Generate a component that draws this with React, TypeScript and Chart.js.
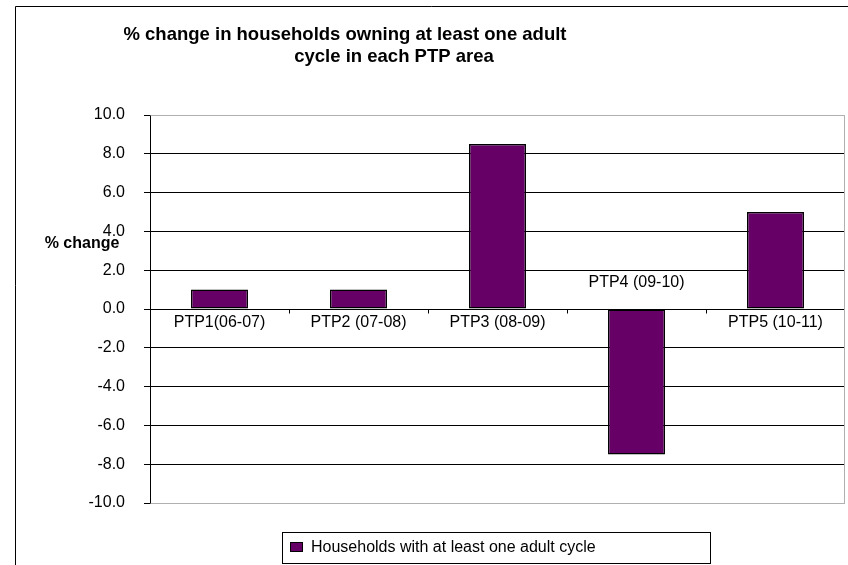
import React, { useEffect, useRef } from "react";
import { Chart, registerables } from "chart.js";

Chart.register(...registerables);

const categories = ["PTP1(06-07)", "PTP2 (07-08)", "PTP3 (08-09)", "PTP4 (09-10)", "PTP5 (10-11)"];
const values = [1.0, 1.0, 8.5, -7.5, 5.0];
const seriesName = "Households with at least one adult cycle";
const titleLines = ["% change in households owning at least one adult", "cycle in each PTP area"];
const yAxisTitle = "% change";
const yMin = -10;
const yMax = 10;
const yStep = 2;

const FONT = '"Liberation Sans", Arial, sans-serif';
const BAR_COLOR = "#660066";

const decorPlugin = {
  id: "decor",
  beforeDraw(chart: any) {
    const ctx = chart.ctx;
    ctx.save();
    ctx.fillStyle = "#fff";
    ctx.fillRect(0, 0, chart.width, chart.height);
    // outer chart border
    ctx.strokeStyle = "#000";
    ctx.lineWidth = 1;
    ctx.beginPath();
    ctx.moveTo(15.5, chart.height);
    ctx.lineTo(15.5, 6.5);
    ctx.lineTo(chart.width, 6.5);
    ctx.stroke();
    // title
    ctx.fillStyle = "#000";
    ctx.font = `bold 18.5px ${FONT}`;
    ctx.textAlign = "center";
    ctx.textBaseline = "middle";
    ctx.fillText(titleLines[0], 345, 35);
    ctx.fillText(titleLines[1], 394, 57);
    ctx.restore();
  },
  afterDatasetsDraw(chart: any) {
    const ctx = chart.ctx;
    const area = chart.chartArea;
    const x = chart.scales.x;
    const y = chart.scales.y;
    const zeroY = Math.round(y.getPixelForValue(0)) + 0.5;
    ctx.save();
    // plot area border (gray) on top, right, bottom
    ctx.strokeStyle = "#b0b0b0";
    ctx.lineWidth = 1;
    ctx.beginPath();
    ctx.moveTo(Math.round(area.left) + 0.5, Math.round(area.top) + 0.5);
    ctx.lineTo(Math.round(area.right) - 0.5, Math.round(area.top) + 0.5);
    ctx.lineTo(Math.round(area.right) - 0.5, Math.round(area.bottom) + 0.5);
    ctx.lineTo(Math.round(area.left) + 0.5, Math.round(area.bottom) + 0.5);
    ctx.stroke();
    // category boundary tick marks on the zero line
    ctx.strokeStyle = "#000";
    const n = categories.length;
    const w = (area.right - area.left) / n;
    ctx.beginPath();
    for (let i = 1; i < n; i++) {
      const px = Math.round(area.left + i * w) + 0.5;
      ctx.moveTo(px, zeroY);
      ctx.lineTo(px, zeroY + 4);
    }
    ctx.stroke();
    // category labels next to the zero line
    ctx.fillStyle = "#000";
    ctx.font = `16px ${FONT}`;
    ctx.textAlign = "center";
    ctx.textBaseline = "middle";
    categories.forEach((c, i) => {
      const cx = x.getPixelForValue(i);
      const ly = values[i] < 0 ? zeroY - 27 : zeroY + 13;
      ctx.fillText(c, cx, ly);
    });
    // y axis title
    ctx.font = `bold 16px ${FONT}`;
    ctx.fillText(yAxisTitle, 82, 244);
    // legend
    ctx.strokeStyle = "#000";
    ctx.strokeRect(282.5, 532.5, 428, 31);
    ctx.fillStyle = BAR_COLOR;
    ctx.fillRect(290.5, 542.5, 12, 9);
    ctx.strokeRect(290.5, 542.5, 12, 9);
    ctx.fillStyle = "#000";
    ctx.font = `16px ${FONT}`;
    ctx.textAlign = "left";
    ctx.fillText(seriesName, 311, 548);
    ctx.restore();
  },
};

export default function App() {
  const canvasRef = useRef<HTMLCanvasElement | null>(null);

  useEffect(() => {
    const canvas = canvasRef.current;
    if (!canvas) return;
    const chart = new Chart(canvas, {
      type: "bar",
      data: {
        labels: categories,
        datasets: [
          {
            label: seriesName,
            data: values,
            backgroundColor: BAR_COLOR,
            borderColor: "#000",
            borderWidth: 1.5,
            borderSkipped: false,
            categoryPercentage: 1,
            barPercentage: 0.41,
          },
        ],
      },
      options: {
        responsive: false,
        animation: false,
        devicePixelRatio: 1,
        layout: { padding: { left: 0, top: 115, right: 3, bottom: 62 } },
        plugins: {
          legend: { display: false },
          tooltip: { enabled: false },
          title: { display: false },
        },
        scales: {
          x: {
            display: false,
          },
          y: {
            min: yMin,
            max: yMax,
            afterFit: (scale: any) => {
              scale.width = 150;
            },
            border: { display: true, color: "#000", width: 1 },
            grid: {
              color: (c: any) =>
                c.tick && (c.tick.value === yMax || c.tick.value === yMin) ? "#b0b0b0" : "#000",
              tickColor: "#000",
              tickLength: 6,
              lineWidth: 1,
            },
            ticks: {
              stepSize: yStep,
              padding: 19,
              color: "#000",
              font: { family: FONT, size: 16 },
              callback: (v: any) => Number(v).toFixed(1),
            },
          },
        },
      },
      plugins: [decorPlugin],
    });
    return () => chart.destroy();
  }, []);

  return (
    <div style={{ position: "fixed", left: 0, top: 0, width: 848, height: 565, background: "#fff" }}>
      <canvas ref={canvasRef} width={848} height={565} style={{ display: "block" }} />
    </div>
  );
}
